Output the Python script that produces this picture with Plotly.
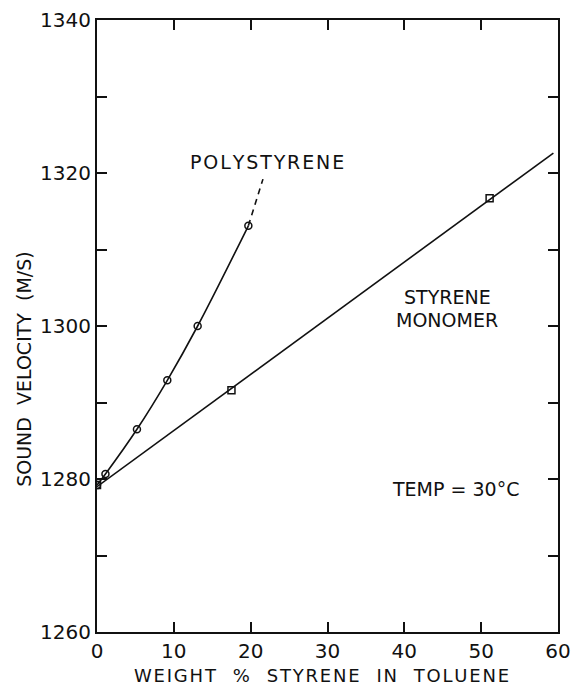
import plotly.graph_objects as go

# Polystyrene data (weight %, m/s)
poly_x = [0.0, 1.1, 5.2, 9.15, 13.1, 19.7]
poly_y = [1279.2, 1280.65, 1286.5, 1292.9, 1300.0, 1313.1]
# dashed extrapolation
poly_ext_x = [19.7, 21.6]
poly_ext_y = [1313.1, 1319.2]

# Styrene monomer data
mono_x = [0.0, 17.5, 51.1]
mono_y = [1279.2, 1291.6, 1316.7]
mono_line_x = [0.0, 59.4]
mono_line_y = [1279.0, 1322.6]

x_ticks = [0, 10, 20, 30, 40, 50, 60]
y_ticks = [1260, 1280, 1300, 1320, 1340]

FONT = "DejaVu Sans"
ink = "#111111"


def spaced(s, sep="\u200a"):
    return sep.join(s)


fig = go.Figure()
fig.add_trace(go.Scatter(x=poly_x, y=poly_y, mode="lines", line=dict(color=ink, width=1.6, shape="spline", smoothing=1.0), showlegend=False, hoverinfo="skip"))
fig.add_trace(go.Scatter(x=poly_ext_x, y=poly_ext_y, mode="lines", line=dict(color=ink, width=1.6, dash="6px,5px"), showlegend=False, hoverinfo="skip"))
fig.add_trace(go.Scatter(x=mono_line_x, y=mono_line_y, mode="lines", line=dict(color=ink, width=1.6), showlegend=False, hoverinfo="skip"))
fig.add_trace(go.Scatter(x=poly_x, y=poly_y, mode="markers", marker=dict(symbol="circle-open", size=7, color=ink, line=dict(width=1.5)), showlegend=False))
fig.add_trace(go.Scatter(x=mono_x, y=mono_y, mode="markers", marker=dict(symbol="square-open", size=7, color=ink, line=dict(width=1.5)), showlegend=False))

annots = [
    dict(x=22.1, y=1321.4, text=spaced("POLYSTYRENE")),
    dict(x=45.6, y=1303.8, text="STYRENE"),
    dict(x=45.6, y=1300.8, text="MONOMER"),
    dict(x=46.6, y=1278.7, text="TEMP = 30°C"),
]
for a in annots:
    fig.add_annotation(x=a["x"], y=a["y"], text=a["text"], showarrow=False, xref="x", yref="y",
                       font=dict(family=FONT, size=19, color=ink))

# axis titles as annotations
fig.add_annotation(x=0.0, y=0.0, xref="paper", yref="paper", xanchor="left", yanchor="middle",
                   xshift=35, yshift=-43,
                   text=spaced("WEIGHT  %  STYRENE  IN  TOLUENE", "\u200a"),
                   showarrow=False, font=dict(family=FONT, size=18, color=ink))
fig.add_annotation(x=0.0, y=0.43, xref="paper", yref="paper", xanchor="center", yanchor="middle",
                   xshift=-73, text="SOUND  VELOCITY  (M/S)",
                   showarrow=False, textangle=-90, font=dict(family=FONT, size=19, color=ink))

fig.update_xaxes(range=[0, 60], tickvals=x_ticks, ticks="inside", ticklen=10, tickwidth=1.5, tickcolor=ink,
                 showline=True, linewidth=2, linecolor=ink, mirror="ticks", showgrid=False, zeroline=False,
                 automargin=False, ticklabelstandoff=0,
                 tickfont=dict(family=FONT, size=20, color=ink))
fig.update_yaxes(range=[1260, 1340], tickvals=y_ticks, ticks="inside", ticklen=10, tickwidth=1.5, tickcolor=ink,
                 minor=dict(dtick=10, tick0=1260, ticks="inside", ticklen=10, tickwidth=1.5, tickcolor=ink, showgrid=False),
                 showline=True, linewidth=2, linecolor=ink, mirror="ticks", showgrid=False, zeroline=False,
                 automargin=False, ticklabelstandoff=0,
                 tickfont=dict(family=FONT, size=20, color=ink))

fig.update_layout(width=573, height=686, margin=dict(l=97, r=15, t=20, b=54),
                  plot_bgcolor="white", paper_bgcolor="white")

fig.write_html("out.html", config={"displayModeBar": False},
               post_script="document.body.style.margin='0';")
